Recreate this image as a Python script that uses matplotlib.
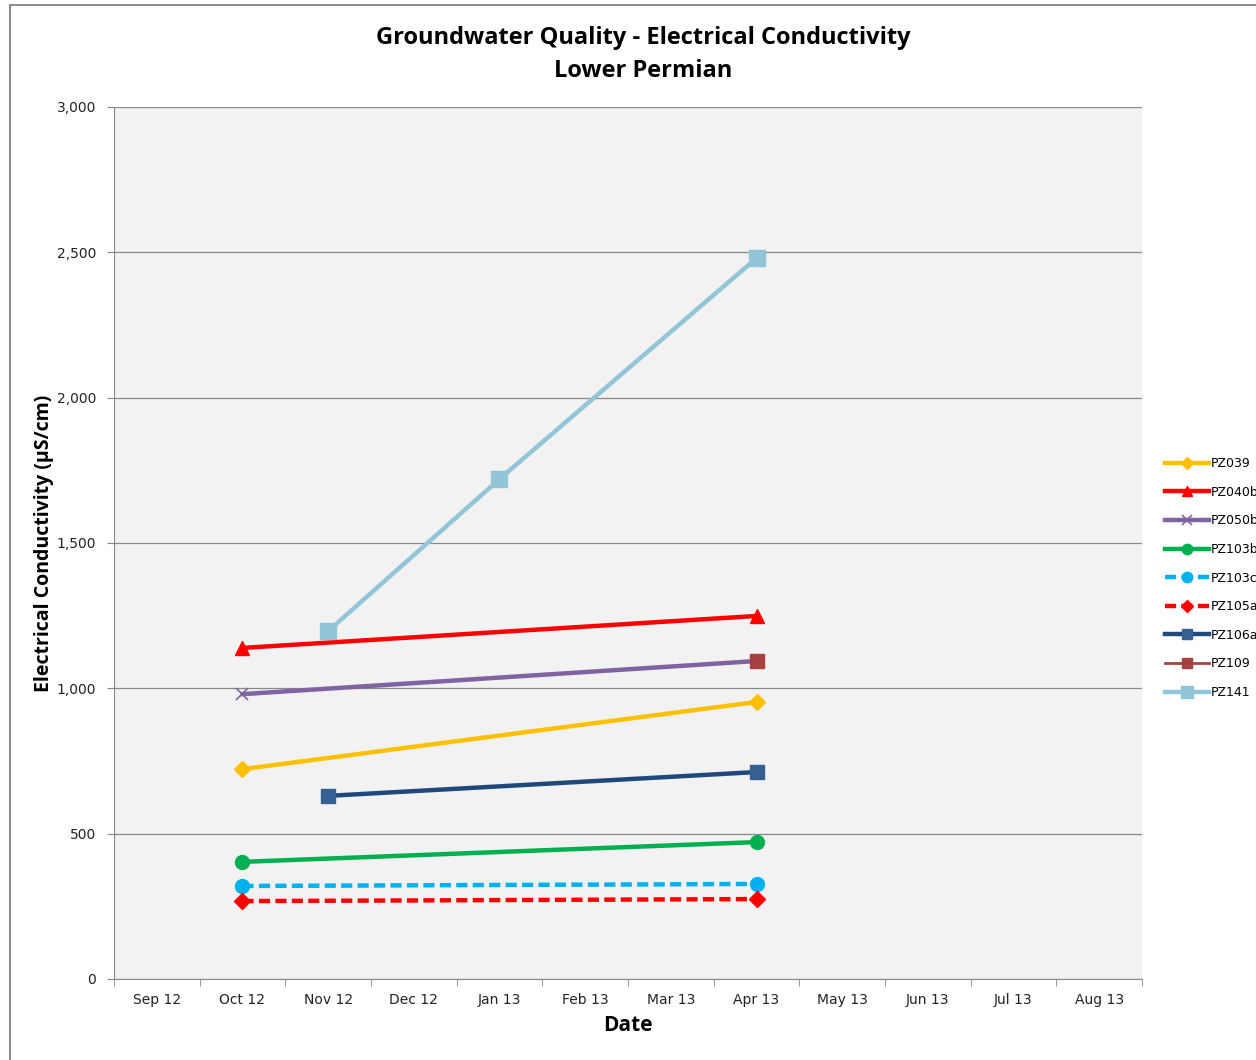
import numpy as np
import matplotlib
matplotlib.use('Agg')
import matplotlib.pyplot as plt
from matplotlib.patches import Rectangle

# 月份类别
months = ['Sep 12', 'Oct 12', 'Nov 12', 'Dec 12', 'Jan 13', 'Feb 13',
          'Mar 13', 'Apr 13', 'May 13', 'Jun 13', 'Jul 13', 'Aug 13']

# 各监测井数据 (月份索引, 电导率 µS/cm)
pz039_x = [1, 7]
pz039_y = [722, 953]
pz040b_x = [1, 7]
pz040b_y = [1139, 1249]
pz050b_x = [1, 7]
pz050b_y = [980, 1094]
pz103b_x = [1, 7]
pz103b_y = [403, 471]
pz103c_x = [1, 7]
pz103c_y = [320, 327]
pz105a_x = [1, 7]
pz105a_y = [268, 275]
pz106a_x = [2, 7]
pz106a_y = [630, 712]
pz109_x = [7]
pz109_y = [1094]
pz141_x = [2, 4, 7]
pz141_y = [1197, 1720, 2480]

fig = plt.figure(figsize=(12.56, 10.6), dpi=100)
ax = fig.add_axes([114 / 1256, 1 - 979 / 1060, 1028 / 1256, 872 / 1060])
ax.set_facecolor('#F2F2F2')

lw = 3.2
ax.plot(pz039_x, pz039_y, color='#FFC000', lw=lw, marker='D', ms=8, label='PZ039')
ax.plot(pz040b_x, pz040b_y, color='#FF0000', lw=lw, marker='^', ms=10, label='PZ040b')
ax.plot(pz050b_x, pz050b_y, color='#8064A2', lw=lw, marker='x', ms=9, mew=1.2,
        mec='#8064A2', label='PZ050b')
ax.plot(pz103b_x, pz103b_y, color='#00B050', lw=lw, marker='o', ms=10, label='PZ103b')
ax.plot(pz103c_x, pz103c_y, color='#00B0F0', lw=lw, ls=(0, (2.5, 1.2)), marker='o', ms=10,
        label='PZ103c')
ax.plot(pz105a_x, pz105a_y, color='#FF0000', lw=lw, ls=(0, (2.5, 1.2)), marker='D', ms=8,
        label='PZ105a')
ax.plot(pz106a_x, pz106a_y, color='#1F497D', lw=lw, marker='s', ms=10, mfc='#376092',
        mec='#376092', label='PZ106a')
ax.plot(pz109_x, pz109_y, color='#A5423F', lw=2, marker='s', ms=10, mfc='#A5423F',
        mec='#A5423F', label='PZ109')
ax.plot(pz141_x, pz141_y, color='#93C5D8', lw=lw, marker='s', ms=11, label='PZ141')

ax.set_xlim(-0.5, 11.5)
ax.set_ylim(0, 3000)
ax.set_yticks(np.arange(0, 3001, 500))
ax.set_yticklabels(['0', '500', '1,000', '1,500', '2,000', '2,500', '3,000'],
                   fontsize=10, color='#222222')
ax.set_xticks(np.arange(12))
ax.set_xticklabels(months, fontsize=10, color='#222222')
ax.set_xticks(np.arange(-0.5, 12, 1), minor=True)
ax.tick_params(axis='x', which='major', length=0, pad=10)
ax.tick_params(axis='x', which='minor', length=5, color='#888888', direction='out')
ax.tick_params(axis='y', length=5, color='#888888', direction='out', pad=8)
ax.grid(axis='y', color='#888888', lw=0.9)
ax.set_axisbelow(True)
for s in ['top', 'right']:
    ax.spines[s].set_visible(False)
for s in ['left', 'bottom']:
    ax.spines[s].set_color('#888888')

ax.set_xlabel('Date', fontsize=15, fontweight='bold', family='Open Sans', labelpad=6)
ax.set_ylabel('Electrical Conductivity (µS/cm)', fontsize=14, fontweight='bold',
              family='Open Sans', labelpad=2)

fig.text(643 / 1256, 1 - 38 / 1060, 'Groundwater Quality - Electrical Conductivity',
         ha='center', va='center', fontsize=17, fontweight='bold', family='Open Sans')
fig.text(643 / 1256, 1 - 71 / 1060, 'Lower Permian',
         ha='center', va='center', fontsize=17, fontweight='bold', family='Open Sans')

fig.legend(loc='upper left', bbox_to_anchor=(1160 / 1256, 1 - 452 / 1060), frameon=False,
           fontsize=9, handlelength=3.5, handletextpad=0.2, labelspacing=1.25,
           markerscale=0.75, borderaxespad=0)

# 外框
fig.patches.append(Rectangle((10 / 1256, -0.01), 1.1, 1 - 5 / 1060 + 0.01,
                             transform=fig.transFigure, fill=False,
                             edgecolor='#777777', lw=1.2))

fig.savefig('out.png', dpi=100)
